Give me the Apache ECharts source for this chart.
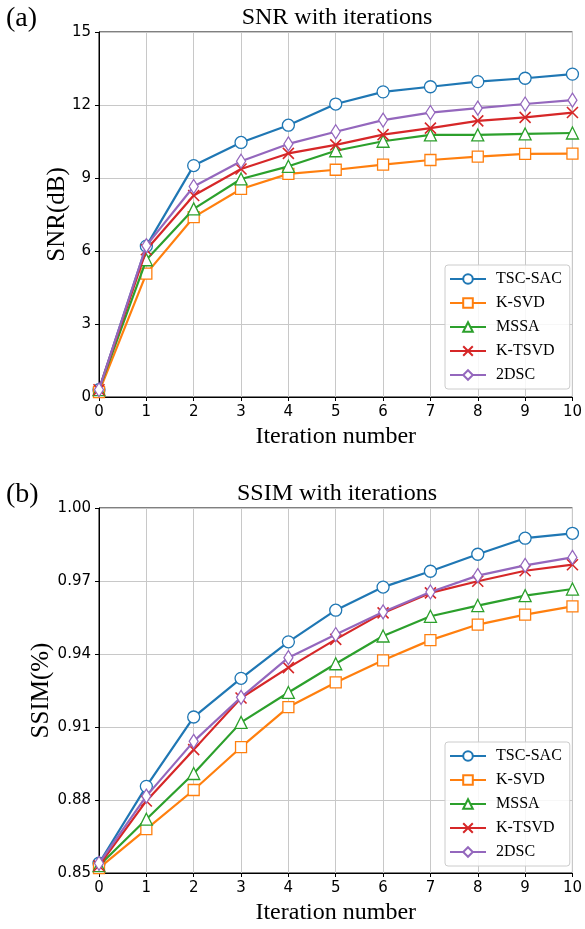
<!DOCTYPE html>
<html>
<head>
<meta charset="utf-8">
<script src="https://cdn.jsdelivr.net/npm/echarts@6/dist/echarts.min.js"></script>
<style>html,body{margin:0;padding:0;background:#fff;}#c{width:585px;height:929px;}</style>
</head>
<body>
<div id="c"></div>
<script>
const iterations = [0,1,2,3,4,5,6,7,8,9,10];
const seriesNames = ['TSC-SAC','K-SVD','MSSA','K-TSVD','2DSC'];
const snrTSC  = [0.3, 6.2, 9.51, 10.46, 11.17, 12.04, 12.54, 12.75, 12.96, 13.10, 13.27];
const snrKSVD = [0.2, 5.07, 7.39, 8.55, 9.17, 9.34, 9.55, 9.74, 9.88, 9.99, 10.0];
const snrMSSA = [0.3, 5.64, 7.73, 8.96, 9.48, 10.12, 10.51, 10.77, 10.77, 10.81, 10.85];
const snrKTSVD= [0.3, 6.05, 8.28, 9.37, 10.01, 10.36, 10.78, 11.05, 11.35, 11.49, 11.69];
const snr2DSC = [0.3, 6.22, 8.65, 9.69, 10.40, 10.90, 11.38, 11.69, 11.87, 12.04, 12.20];
const ssimTSC  = [0.854, 0.8856, 0.9141, 0.930, 0.945, 0.958, 0.9675, 0.974, 0.981, 0.9876, 0.9896];
const ssimKSVD = [0.852, 0.868, 0.8841, 0.9017, 0.9182, 0.9283, 0.9374, 0.9457, 0.9521, 0.9562, 0.9596];
const ssimMSSA = [0.853, 0.8721, 0.8909, 0.9119, 0.9242, 0.936, 0.9474, 0.9555, 0.9599, 0.964, 0.9667];
const ssimKTSVD= [0.853, 0.8796, 0.9007, 0.9219, 0.9344, 0.946, 0.9569, 0.9651, 0.9699, 0.9742, 0.9767];
const ssim2DSC = [0.854, 0.8816, 0.9041, 0.9222, 0.9385, 0.948, 0.9573, 0.9655, 0.9722, 0.9764, 0.9797];
const snrTicks = {min:0, max:15, interval:3};
const ssimTicks = {min:0.85, max:1.00, interval:0.03};

const colors = ['#1f77b4','#ff7f0e','#2ca02c','#d62728','#9467bd'];
const symbols = ['circle','rect','triangle','path://M0,0L10,10M10,0L0,10','diamond'];
const sizes = [12, 11, 12, 11, [9,14]];
const serif = 'Liberation Serif, Times New Roman, serif';
const sans = 'DejaVu Sans, sans-serif';

function mk(arr, idx, gi){
  return {
    type:'line', name: seriesNames[idx], xAxisIndex: gi, yAxisIndex: gi,
    data: iterations.map((x,i)=>[x, arr[i]]),
    symbol: symbols[idx], symbolSize: sizes[idx], showAllSymbol:true,
    lineStyle:{color: colors[idx], width:2.2},
    itemStyle:{color: idx===3 ? colors[idx] : '#fff', borderColor: colors[idx], borderWidth: idx===3?1.6:1.3},
    emphasis:{disabled:true}, clip:true, z: 2+idx
  };
}
const snrSets = [snrTSC, snrKSVD, snrMSSA, snrKTSVD, snr2DSC];
const ssimSets = [ssimTSC, ssimKSVD, ssimMSSA, ssimKTSVD, ssim2DSC];
const series = [];
snrSets.forEach((a,i)=>series.push(mk(a,i,0)));
ssimSets.forEach((a,i)=>series.push(mk(a,i,1)));

function xAx(gi){
  return {type:'value', gridIndex: gi, min:0, max:10, interval:1,
    name:'Iteration number', nameLocation:'middle', nameGap:28, nameMoveOverlap:false,
    nameTextStyle:{fontFamily:serif, fontSize:24, color:'#000'},
    axisLine:{show:true, lineStyle:{color:'#000', width:1}},
    axisTick:{show:true, length:4, lineStyle:{color:'#000'}},
    axisLabel:{fontFamily:sans, fontSize:15, color:'#000', margin:8},
    splitLine:{show:true, lineStyle:{color:'#c8c8c8', width:1}}};
}
function yAx(gi, t, name, dec){
  return {type:'value', gridIndex: gi, min:t.min, max:t.max, interval:t.interval,
    name:name, nameLocation:'middle', nameGap: dec? 45 : 29, nameRotate:90, nameMoveOverlap:false,
    nameTextStyle:{fontFamily:serif, fontSize:25, color:'#000'},
    axisLine:{show:true, lineStyle:{color:'#000', width:1}},
    axisTick:{show:true, length:4, lineStyle:{color:'#000'}},
    axisLabel:{fontFamily:sans, fontSize:15, color:'#000', margin:8,
      formatter: v => dec ? v.toFixed(2) : String(Math.round(v))},
    splitLine:{show:true, lineStyle:{color:'#c8c8c8', width:1}}};
}
function legend(top){
  return {show:true, orient:'vertical', left:445, top: top,
    data: seriesNames.map((n,i)=>({name:n})),
    itemWidth:36, itemHeight:12, itemGap:8,
    padding:[6,8,6,4],
    backgroundColor:'rgba(255,255,255,0.85)', borderColor:'#cccccc', borderWidth:1, borderRadius:3,
    textStyle:{fontFamily:serif, fontSize:16, lineHeight:16, color:'#000', padding:[0,0,0,5]},
    selectedMode:false};
}

const opt = {
  animation:false,
  backgroundColor:'#fff',
  color: colors,
  title:[
    {text:'SNR with iterations', left:332, top:1, textAlign:'center',
      textStyle:{fontFamily:serif, fontSize:24, fontWeight:'normal', color:'#000'}},
    {text:'SSIM with iterations', left:332, top:477, textAlign:'center',
      textStyle:{fontFamily:serif, fontSize:24, fontWeight:'normal', color:'#000'}}
  ],
  graphic:[
    {type:'text', left:6, top:5, style:{text:'(a)', font:'28px "Liberation Serif"', fill:'#000'}},
    {type:'text', left:6, top:481, style:{text:'(b)', font:'28px "Liberation Serif"', fill:'#000'}}
  ],
  legend:[legend(265), legend(742)],
  grid:[
    {left:99, top:32, width:477, height:365, show:true, borderColor:'#000', borderWidth:1, containLabel:false},
    {left:99, top:508, width:477, height:365, show:true, borderColor:'#000', borderWidth:1, containLabel:false}
  ],
  xAxis:[xAx(0), xAx(1)],
  yAxis:[yAx(0, snrTicks, 'SNR(dB)', false), yAx(1, ssimTicks, 'SSIM(%)', true)],
  series: series
};
const chart = echarts.init(document.getElementById('c'), null, {renderer:'canvas'});
chart.setOption(opt);
</script>
</body>
</html>
